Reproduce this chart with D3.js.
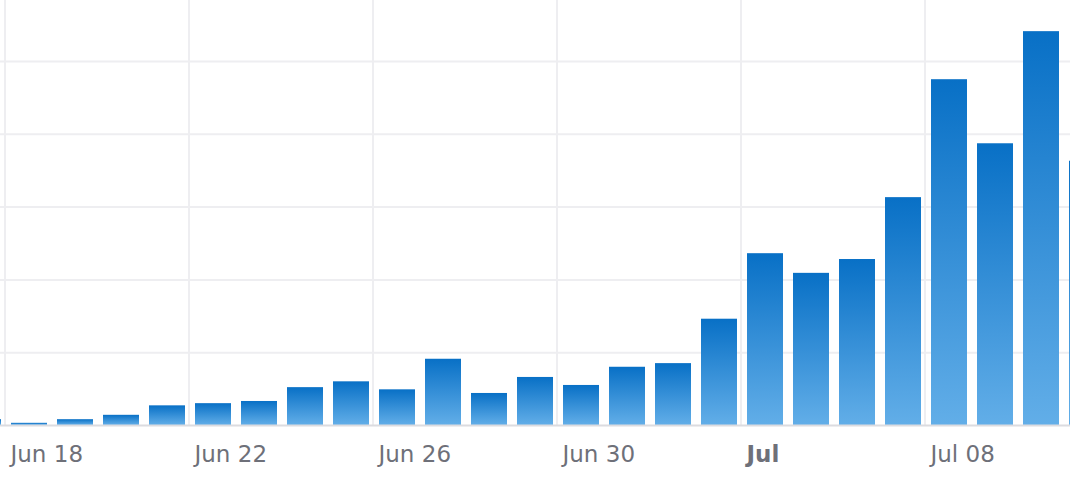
<!DOCTYPE html>
<html>
<head>
<meta charset="utf-8">
<script src="https://cdn.jsdelivr.net/npm/d3@7"></script>
<style>
  html, body { margin: 0; padding: 0; background: #ffffff; }
  svg { display: block; }
</style>
</head>
<body>
<svg id="chart" width="1070" height="494"></svg>
<script>
// ---- data ----
const dates = [
  "2024-06-17","2024-06-18","2024-06-19","2024-06-20","2024-06-21","2024-06-22",
  "2024-06-23","2024-06-24","2024-06-25","2024-06-26","2024-06-27","2024-06-28",
  "2024-06-29","2024-06-30","2024-07-01","2024-07-02","2024-07-03","2024-07-04",
  "2024-07-05","2024-07-06","2024-07-07","2024-07-08","2024-07-09","2024-07-10",
  "2024-07-11"
];
const values = [
  8, 3, 8, 14, 27, 30,
  33, 52, 60, 49, 91, 44,
  66, 55, 80, 85, 146, 236,
  209, 228, 313, 475, 387, 541,
  363
];
const tickDates = ["2024-06-18","2024-06-22","2024-06-26","2024-06-30","2024-07-04","2024-07-08"];
const tickLabels = ["Jun 18","Jun 22","Jun 26","Jun 30","Jul","Jul 08"];
const tickBold = [false,false,false,false,true,false];
const yTicks = [100, 200, 300, 400, 500];

// ---- layout ----
const svg = d3.select("#chart");
const W = 1070, H = 494;
const baseY = 425;
const parse = d3.utcParse("%Y-%m-%d");

const x = d3.scaleUtc()
  .domain([parse("2024-06-18"), parse("2024-07-10")])
  .range([5, 5 + 22 * 46]);
const y = d3.scaleLinear().domain([0, 500]).range([baseY, 61]);

const defs = svg.append("defs");
const grad = defs.append("linearGradient")
  .attr("id", "barGrad").attr("x1", 0).attr("y1", 0).attr("x2", 0).attr("y2", 1);
grad.append("stop").attr("offset", "0%").attr("stop-color", "#0870c6");
grad.append("stop").attr("offset", "100%").attr("stop-color", "#62aee8");

// horizontal gridlines
const yAxis = d3.axisLeft(y).tickValues(yTicks).tickSize(-W).tickFormat("");
svg.append("g")
  .call(yAxis)
  .call(g => g.select(".domain").remove())
  .call(g => g.selectAll(".tick line").attr("stroke", "#eeeef1").attr("stroke-width", 2));

// vertical gridlines
const tickVals = tickDates.map(parse);
svg.append("g").selectAll("line").data(tickVals).join("line")
  .attr("x1", d => x(d)).attr("x2", d => x(d))
  .attr("y1", 0).attr("y2", baseY)
  .attr("stroke", "#eeeef1").attr("stroke-width", 2);

// bars
const bw = 36;
svg.append("g").selectAll("rect").data(dates.map((d, i) => ({ d: parse(d), v: values[i] })))
  .join("rect")
  .attr("x", d => x(d.d) + 6)
  .attr("width", bw)
  .attr("y", d => y(d.v))
  .attr("height", d => baseY - y(d.v))
  .attr("fill", "url(#barGrad)");

// baseline
svg.append("line")
  .attr("x1", 0).attr("x2", W).attr("y1", baseY + 0.5).attr("y2", baseY + 0.5)
  .attr("stroke", "#dcdce0").attr("stroke-width", 2);

// x axis labels
const xAxis = d3.axisBottom(x).tickValues(tickVals).tickSize(0)
  .tickFormat((d, i) => tickLabels[i]);
svg.append("g").attr("transform", `translate(0,${baseY})`)
  .call(xAxis)
  .call(g => g.select(".domain").remove())
  .call(g => g.selectAll(".tick text")
    .attr("text-anchor", "start")
    .attr("x", 5)
    .attr("dy", 0)
    .attr("y", 36.5)
    .attr("fill", "#6e7079")
    .style("font-family", "'DejaVu Sans', Verdana, sans-serif")
    .style("font-size", "23px")
    .style("font-weight", (d, i) => tickBold[i] ? "bold" : "normal"));
</script>
</body>
</html>
